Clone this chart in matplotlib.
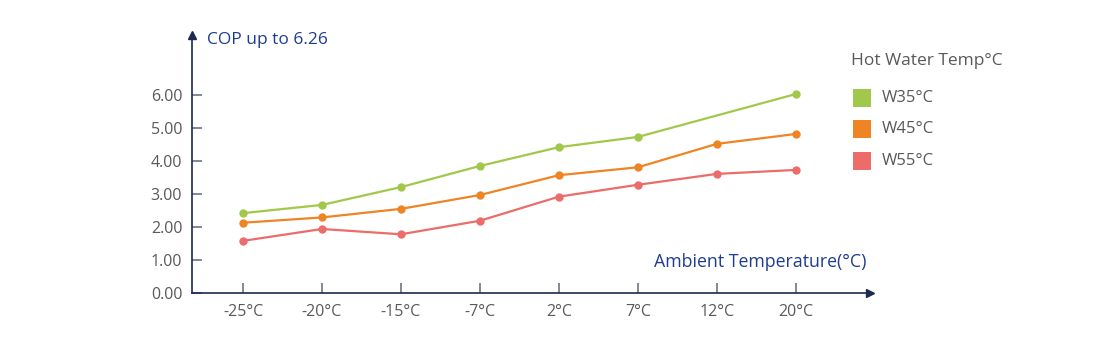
import numpy as np
import matplotlib.pyplot as plt
from matplotlib.patches import Rectangle

plt.rcParams['font.family'] = ['Open Sans', 'DejaVu Sans']

temps = ['-25°C', '-20°C', '-15°C', '-7°C', '2°C', '7°C', '12°C', '20°C']
series_names = ['W35°C', 'W45°C', 'W55°C']
colors = ['#a2c84b', '#ef8425', '#eb6c69']

# W35 has no point at 12°C in the reference
w35_idx = [0, 1, 2, 3, 4, 5, 7]
w35 = [2.42, 2.67, 3.21, 3.85, 4.42, 4.73, 6.03]
w45 = [2.13, 2.29, 2.55, 2.97, 3.57, 3.81, 4.52, 4.82]
w55 = [1.58, 1.94, 1.78, 2.19, 2.92, 3.28, 3.61, 3.73]

yticks = [0, 1, 2, 3, 4, 5, 6]

W, H = 1101, 348
fig = plt.figure(figsize=(W / 100, H / 100), dpi=100)
ax = fig.add_axes([192 / W, 1 - 293 / H, (870 - 192) / W, (293 - 35) / H])

xs = np.arange(len(temps))
ax.plot(w35_idx, w35, '-o', color=colors[0], lw=1.6, ms=5)
ax.plot(xs, w45, '-o', color=colors[1], lw=1.6, ms=5)
ax.plot(xs, w55, '-o', color=colors[2], lw=1.6, ms=5)

ax.set_xlim(-0.646, 7.94)
ax.set_ylim(0, 7.82)

axis_col = '#1d2a52'
for s in ['top', 'right']:
    ax.spines[s].set_visible(False)
for s in ['left', 'bottom']:
    ax.spines[s].set_color(axis_col)
    ax.spines[s].set_linewidth(1.2)

ax.plot(1, 0, '>', color=axis_col, ms=6, transform=ax.transAxes, clip_on=False)
ax.plot(0, 1, '^', color=axis_col, ms=6, transform=ax.transAxes, clip_on=False)

ax.set_xticks(xs)
ax.set_xticklabels(temps)
ax.set_yticks(yticks)
ax.set_yticklabels(['%.2f' % v for v in yticks])
ax.tick_params(axis='both', direction='in', length=7, width=1.2,
               color='#6b7385', labelcolor='#595959', labelsize=11.5)
ax.tick_params(axis='y', pad=7)
ax.tick_params(axis='x', pad=8)

blue = '#1f3c91'
fig.text(207 / W, 1 - 40 / H, 'COP up to 6.26', color=blue, fontsize=12.5,
         ha='left', va='center')
fig.text(866 / W, 1 - 262 / H, 'Ambient Temperature(°C)', color=blue,
         fontsize=12.8, ha='right', va='center')

# legend
fig.text(851 / W, 1 - 61 / H, 'Hot Water Temp°C', color='#595959',
         fontsize=12.5, ha='left', va='center')
for i, name in enumerate(series_names):
    yc = [98, 129, 161][i]
    fig.add_artist(Rectangle((853 / W, 1 - (yc + 9) / H), 18 / W, 18 / H,
                             transform=fig.transFigure, color=colors[i], lw=0))
    fig.text(882 / W, 1 - yc / H, name, color='#595959', fontsize=12,
             ha='left', va='center')

fig.savefig('out.png', dpi=100)
